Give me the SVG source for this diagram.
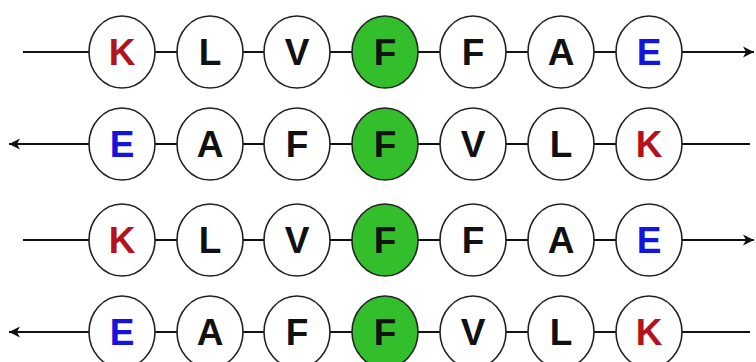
<svg xmlns="http://www.w3.org/2000/svg" width="756" height="362" viewBox="0 0 756 362">
<defs>
<style>
.ln{stroke:#111;stroke-width:2;fill:none}
.n ellipse{fill:#fff;stroke:#222;stroke-width:1.6}
.n.g ellipse{fill:#33bf2b}
.n text{font-family:"Liberation Sans",Arial,sans-serif;font-weight:bold;font-size:37px;text-anchor:middle;fill:#111}
.n text.r{fill:#b5121b}
.n text.b{fill:#1414e0}
</style>
<marker id="ah" markerWidth="14" markerHeight="12" refX="11" refY="6" orient="auto" markerUnits="userSpaceOnUse">
<path d="M0,0.5 L11,6 L0,11.5 L3,6 Z" fill="#111"/>
</marker>
</defs>
<g id="connectors">
<line class="ln" x1="23" y1="52" x2="754" y2="52" marker-end="url(#ah)"/>
<line class="ln" x1="750" y1="144" x2="9" y2="144" marker-end="url(#ah)"/>
<line class="ln" x1="23" y1="240" x2="754" y2="240" marker-end="url(#ah)"/>
<line class="ln" x1="750" y1="332" x2="9" y2="332" marker-end="url(#ah)"/>
</g>
<g id="r1">
<g id="r1n1" class="n"><ellipse cx="122" cy="52" rx="33" ry="36"/><text class="r" x="122" y="65">K</text></g>
<g id="r1n2" class="n"><ellipse cx="210" cy="52" rx="33" ry="36"/><text x="210" y="65">L</text></g>
<g id="r1n3" class="n"><ellipse cx="297" cy="52" rx="33" ry="36"/><text x="297" y="65">V</text></g>
<g id="r1n4" class="n g"><ellipse cx="385" cy="52" rx="33" ry="36"/><text x="385" y="65">F</text></g>
<g id="r1n5" class="n"><ellipse cx="473" cy="52" rx="33" ry="36"/><text x="473" y="65">F</text></g>
<g id="r1n6" class="n"><ellipse cx="561" cy="52" rx="33" ry="36"/><text x="561" y="65">A</text></g>
<g id="r1n7" class="n"><ellipse cx="649" cy="52" rx="33" ry="36"/><text class="b" x="649" y="65">E</text></g>
</g>
<g id="r2">
<g id="r2n1" class="n"><ellipse cx="122" cy="144" rx="33" ry="36"/><text class="b" x="122" y="157">E</text></g>
<g id="r2n2" class="n"><ellipse cx="210" cy="144" rx="33" ry="36"/><text x="210" y="157">A</text></g>
<g id="r2n3" class="n"><ellipse cx="297" cy="144" rx="33" ry="36"/><text x="297" y="157">F</text></g>
<g id="r2n4" class="n g"><ellipse cx="385" cy="144" rx="33" ry="36"/><text x="385" y="157">F</text></g>
<g id="r2n5" class="n"><ellipse cx="473" cy="144" rx="33" ry="36"/><text x="473" y="157">V</text></g>
<g id="r2n6" class="n"><ellipse cx="561" cy="144" rx="33" ry="36"/><text x="561" y="157">L</text></g>
<g id="r2n7" class="n"><ellipse cx="649" cy="144" rx="33" ry="36"/><text class="r" x="649" y="157">K</text></g>
</g>
<g id="r3">
<g id="r3n1" class="n"><ellipse cx="122" cy="240" rx="33" ry="36"/><text class="r" x="122" y="253">K</text></g>
<g id="r3n2" class="n"><ellipse cx="210" cy="240" rx="33" ry="36"/><text x="210" y="253">L</text></g>
<g id="r3n3" class="n"><ellipse cx="297" cy="240" rx="33" ry="36"/><text x="297" y="253">V</text></g>
<g id="r3n4" class="n g"><ellipse cx="385" cy="240" rx="33" ry="36"/><text x="385" y="253">F</text></g>
<g id="r3n5" class="n"><ellipse cx="473" cy="240" rx="33" ry="36"/><text x="473" y="253">F</text></g>
<g id="r3n6" class="n"><ellipse cx="561" cy="240" rx="33" ry="36"/><text x="561" y="253">A</text></g>
<g id="r3n7" class="n"><ellipse cx="649" cy="240" rx="33" ry="36"/><text class="b" x="649" y="253">E</text></g>
</g>
<g id="r4">
<g id="r4n1" class="n"><ellipse cx="122" cy="332" rx="33" ry="36"/><text class="b" x="122" y="345">E</text></g>
<g id="r4n2" class="n"><ellipse cx="210" cy="332" rx="33" ry="36"/><text x="210" y="345">A</text></g>
<g id="r4n3" class="n"><ellipse cx="297" cy="332" rx="33" ry="36"/><text x="297" y="345">F</text></g>
<g id="r4n4" class="n g"><ellipse cx="385" cy="332" rx="33" ry="36"/><text x="385" y="345">F</text></g>
<g id="r4n5" class="n"><ellipse cx="473" cy="332" rx="33" ry="36"/><text x="473" y="345">V</text></g>
<g id="r4n6" class="n"><ellipse cx="561" cy="332" rx="33" ry="36"/><text x="561" y="345">L</text></g>
<g id="r4n7" class="n"><ellipse cx="649" cy="332" rx="33" ry="36"/><text class="r" x="649" y="345">K</text></g>
</g>
</svg>
